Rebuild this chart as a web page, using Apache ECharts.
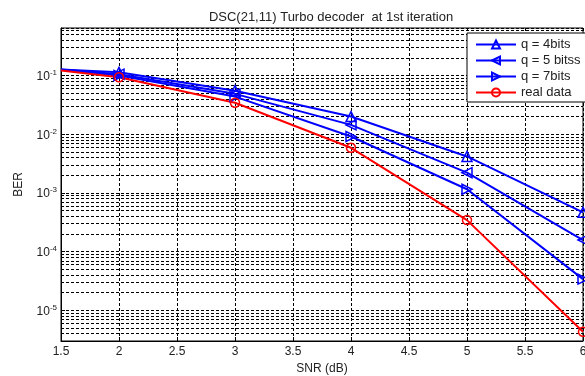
<!DOCTYPE html>
<html>
<head>
<meta charset="utf-8">
<script src="https://cdn.jsdelivr.net/npm/echarts@6/dist/echarts.min.js"></script>
<style>
  html, body { margin: 0; padding: 0; background: #fff; }
  #chart { width: 585px; height: 376px; }
</style>
</head>
<body>
<div id="chart"></div>
<script>
const snr = [1.5, 2, 3, 4, 5, 6];
const q4 = [0.128, 0.114, 0.0555, 0.0201, 0.0042, 0.000468];
const q5 = [0.127, 0.106, 0.049, 0.0145, 0.00222, 0.000158];
const q7 = [0.126, 0.101, 0.044, 0.0092, 0.00116, 0.000034];
const realData = [0.123, 0.094, 0.0346, 0.0059, 0.000345, 0.0000043];
const xTicks = ['1.5', '2', '2.5', '3', '3.5', '4', '4.5', '5', '5.5', '6'];

const yMin = 3e-6;
const yMax = 0.65;

// minor log grid lines (2..9 x 10^k)
const minorLines = [];
for (let k = -6; k <= -1; k++) {
  for (let m = 2; m <= 9; m++) {
    const v = m * Math.pow(10, k);
    if (v > yMin && v < yMax) minorLines.push({ yAxis: v });
  }
}

const font = '"Liberation Sans", Arial, sans-serif';
const dash = [3, 2];

function pts(arr) {
  return arr.map((v, i) => i === 0
    ? { value: [snr[i], v], symbol: 'none' }
    : [snr[i], v]);
}

function mk(name, data, color, symbol, rotate, size) {
  return {
    name: name,
    type: 'line',
    data: pts(data),
    symbol: symbol,
    symbolSize: size,
    symbolRotate: rotate,
    showSymbol: true,
    lineStyle: { color: color, width: 2 },
    itemStyle: { color: 'rgba(255,255,255,0)', borderColor: color, borderWidth: 1.5 },
    z: 3
  };
}

const chart = echarts.init(document.getElementById('chart'), null, { renderer: 'canvas' });

chart.setOption({
  animation: false,
  backgroundColor: '#fff',
  title: {
    text: 'DSC(21,11) Turbo decoder  at 1st iteration',
    left: 326,
    top: 6,
    textAlign: 'center',
    textStyle: { fontFamily: font, fontSize: 13, fontWeight: 'normal', color: '#222' }
  },
  grid: {
    left: 61, right: 2, top: 28, bottom: 35,
    containLabel: false,
    outerBoundsMode: 'none',
    show: true, borderColor: '#000', borderWidth: 1
  },
  legend: {
    orient: 'vertical',
    left: 467,
    top: 33,
    padding: [5, 12, 3, 8],
    itemGap: 3,
    itemWidth: 40,
    itemHeight: 10,
    backgroundColor: '#fff',
    borderColor: '#000',
    borderWidth: 1,
    borderRadius: 0,
    textStyle: { fontFamily: font, fontSize: 13, color: '#222' },
    data: ['q = 4bits', 'q = 5 bitss', 'q = 7bits', 'real data']
  },
  xAxis: {
    type: 'value',
    min: 1.5,
    max: 6,
    interval: 0.5,
    name: 'SNR (dB)',
    nameLocation: 'middle',
    nameGap: 22,
    nameTextStyle: { fontFamily: font, fontSize: 12, color: '#222' },
    axisLine: { lineStyle: { color: '#000', width: 1 } },
    axisTick: { inside: true, length: 4, lineStyle: { color: '#000' } },
    axisLabel: {
      fontFamily: font, fontSize: 12, color: '#222', margin: 5,
      formatter: (v) => xTicks[Math.round((v - 1.5) / 0.5)]
    },
    splitLine: { show: true, lineStyle: { color: '#000', type: dash, width: 1 } }
  },
  yAxis: {
    type: 'log',
    logBase: 10,
    min: yMin,
    max: yMax,
    name: 'BER',
    nameLocation: 'middle',
    nameGap: 36,
    nameRotate: 90,
    nameTextStyle: { fontFamily: font, fontSize: 12, color: '#222' },
    axisLine: { lineStyle: { color: '#000', width: 1 } },
    axisTick: { inside: true, length: 4, lineStyle: { color: '#000' } },
    axisLabel: {
      showMinLabel: false,
      showMaxLabel: false,
      margin: 4,
      formatter: (v) => '{b|10}{e|' + Math.round(Math.log10(v)) + '}',
      rich: {
        b: { fontFamily: font, fontSize: 12, color: '#222', verticalAlign: 'bottom', lineHeight: 14 },
        e: { fontFamily: font, fontSize: 8, color: '#222', verticalAlign: 'top', lineHeight: 8, padding: [0, 0, 8, 0] }
      }
    },
    splitLine: { show: true, lineStyle: { color: '#000', type: dash, width: 1 } }
  },
  series: [
    mk('q = 4bits', q4, '#0000ff', 'triangle', 0, 10),
    mk('q = 5 bitss', q5, '#0000ff', 'triangle', 90, 10),
    mk('q = 7bits', q7, '#0000ff', 'triangle', -90, 10),
    Object.assign(mk('real data', realData, '#ff0000', 'circle', 0, 9), {
      markLine: {
        silent: true,
        symbol: 'none',
        precision: 12,
        z: 1,
        label: { show: false },
        lineStyle: { color: '#000', type: dash, width: 1 },
        emphasis: { disabled: true },
        data: minorLines
      }
    })
  ]
});
</script>
</body>
</html>
